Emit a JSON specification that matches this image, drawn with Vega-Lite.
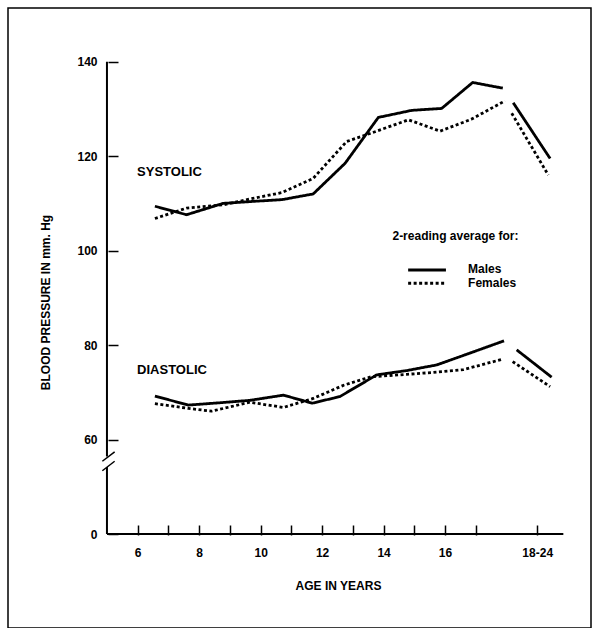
{
  "$schema": "https://vega.github.io/schema/vega-lite/v6.json",
  "width": 583,
  "height": 620,
  "autosize": {"type": "none"},
  "padding": {"left": 8, "top": 8, "right": 9, "bottom": 0},
  "background": "white",
  "config": {
    "view": {"stroke": "black", "strokeWidth": 1.5},
    "font": "Liberation Sans",
    "axis": {
      "domain": false,
      "grid": false,
      "tickColor": "black",
      "tickWidth": 1.5,
      "tickSize": -10,
      "labelFont": "Liberation Sans",
      "labelFontWeight": "bold",
      "labelFontSize": 12,
      "labelColor": "black",
      "titleFont": "Liberation Sans",
      "titleFontWeight": "bold",
      "titleFontSize": 12,
      "titleColor": "black"
    },
    "text": {"font": "Liberation Sans", "fontWeight": "bold", "color": "black", "baseline": "middle"}
  },
  "layer": [
    {
      "data": {
        "values": [
          {"age": 6.56, "bp": 109.4, "sex": "Males", "series": "sys-child"},
          {"age": 7.59, "bp": 107.6, "sex": "Males", "series": "sys-child"},
          {"age": 8.78, "bp": 110.0, "sex": "Males", "series": "sys-child"},
          {"age": 9.7, "bp": 110.4, "sex": "Males", "series": "sys-child"},
          {"age": 10.7, "bp": 110.8, "sex": "Males", "series": "sys-child"},
          {"age": 11.71, "bp": 112.0, "sex": "Males", "series": "sys-child"},
          {"age": 12.75, "bp": 118.5, "sex": "Males", "series": "sys-child"},
          {"age": 13.83, "bp": 128.2, "sex": "Males", "series": "sys-child"},
          {"age": 14.92, "bp": 129.7, "sex": "Males", "series": "sys-child"},
          {"age": 15.89, "bp": 130.1, "sex": "Males", "series": "sys-child"},
          {"age": 16.9, "bp": 135.6, "sex": "Males", "series": "sys-child"},
          {"age": 17.88, "bp": 134.4, "sex": "Males", "series": "sys-child"},
          {"age": 18.22, "bp": 131.3, "sex": "Males", "series": "sys-adult"},
          {"age": 19.42, "bp": 119.5, "sex": "Males", "series": "sys-adult"},
          {"age": 6.56, "bp": 106.8, "sex": "Females", "series": "sys-child"},
          {"age": 7.59, "bp": 109.0, "sex": "Females", "series": "sys-child"},
          {"age": 8.79, "bp": 109.7, "sex": "Females", "series": "sys-child"},
          {"age": 9.7, "bp": 111.0, "sex": "Females", "series": "sys-child"},
          {"age": 10.7, "bp": 112.3, "sex": "Females", "series": "sys-child"},
          {"age": 11.71, "bp": 115.3, "sex": "Females", "series": "sys-child"},
          {"age": 12.8, "bp": 123.1, "sex": "Females", "series": "sys-child"},
          {"age": 13.56, "bp": 124.8, "sex": "Females", "series": "sys-child"},
          {"age": 14.81, "bp": 127.7, "sex": "Females", "series": "sys-child"},
          {"age": 15.84, "bp": 125.3, "sex": "Females", "series": "sys-child"},
          {"age": 16.85, "bp": 127.8, "sex": "Females", "series": "sys-child"},
          {"age": 17.95, "bp": 131.7, "sex": "Females", "series": "sys-child"},
          {"age": 18.17, "bp": 129.1, "sex": "Females", "series": "sys-adult"},
          {"age": 19.36, "bp": 116.0, "sex": "Females", "series": "sys-adult"},
          {"age": 6.56, "bp": 69.2, "sex": "Males", "series": "dia-child"},
          {"age": 7.65, "bp": 67.3, "sex": "Males", "series": "dia-child"},
          {"age": 8.7, "bp": 67.8, "sex": "Males", "series": "dia-child"},
          {"age": 9.65, "bp": 68.3, "sex": "Males", "series": "dia-child"},
          {"age": 10.74, "bp": 69.4, "sex": "Males", "series": "dia-child"},
          {"age": 11.68, "bp": 67.7, "sex": "Males", "series": "dia-child"},
          {"age": 12.58, "bp": 69.1, "sex": "Males", "series": "dia-child"},
          {"age": 13.78, "bp": 73.7, "sex": "Males", "series": "dia-child"},
          {"age": 14.75, "bp": 74.6, "sex": "Males", "series": "dia-child"},
          {"age": 15.73, "bp": 75.8, "sex": "Males", "series": "dia-child"},
          {"age": 16.81, "bp": 78.3, "sex": "Males", "series": "dia-child"},
          {"age": 17.92, "bp": 80.9, "sex": "Males", "series": "dia-child"},
          {"age": 18.33, "bp": 79.0, "sex": "Males", "series": "dia-adult"},
          {"age": 19.47, "bp": 73.2, "sex": "Males", "series": "dia-adult"},
          {"age": 6.56, "bp": 67.6, "sex": "Females", "series": "dia-child"},
          {"age": 7.65, "bp": 66.6, "sex": "Females", "series": "dia-child"},
          {"age": 8.4, "bp": 66.0, "sex": "Females", "series": "dia-child"},
          {"age": 9.65, "bp": 67.9, "sex": "Females", "series": "dia-child"},
          {"age": 10.74, "bp": 66.8, "sex": "Females", "series": "dia-child"},
          {"age": 11.71, "bp": 68.7, "sex": "Females", "series": "dia-child"},
          {"age": 12.7, "bp": 71.5, "sex": "Females", "series": "dia-child"},
          {"age": 13.6, "bp": 73.3, "sex": "Females", "series": "dia-child"},
          {"age": 14.75, "bp": 73.8, "sex": "Females", "series": "dia-child"},
          {"age": 15.6, "bp": 74.2, "sex": "Females", "series": "dia-child"},
          {"age": 16.6, "bp": 74.8, "sex": "Females", "series": "dia-child"},
          {"age": 17.86, "bp": 77.0, "sex": "Females", "series": "dia-child"},
          {"age": 18.2, "bp": 76.5, "sex": "Females", "series": "dia-adult"},
          {"age": 19.42, "bp": 71.2, "sex": "Females", "series": "dia-adult"}
        ]
      },
      "mark": {"type": "line", "color": "black", "strokeWidth": 2.8, "strokeCap": "butt", "strokeJoin": "round"},
      "encoding": {
        "x": {
          "field": "age", "type": "quantitative",
          "scale": {"domain": [1.78, 20.75], "nice": false, "zero": false},
          "axis": {
            "title": "AGE IN YEARS",
            "offset": -93,
            "values": [6, 7, 8, 9, 10, 11, 12, 13, 14, 15, 16, 17, 19],
            "labelExpr": "datum.value == 19 ? '18-24' : (datum.value % 2 == 0 ? datum.label : '')",
            "labelPadding": 22,
            "titleX": 330,
            "titleY": 50,
            "titleBaseline": "middle"
          }
        },
        "y": {
          "field": "bp", "type": "quantitative",
          "scale": {"domain": [20.1, 151.37], "nice": false, "zero": false},
          "axis": {
            "title": "BLOOD PRESSURE IN mm. Hg",
            "offset": -100,
            "values": [40, 60, 80, 100, 120, 140],
            "labelExpr": "datum.value == 40 ? '0' : datum.label",
            "labelPadding": 21,
            "titleX": -63,
            "titleY": 294,
            "titleAngle": -90,
            "titleAlign": "center",
            "titleBaseline": "middle"
          }
        },
        "detail": {"field": "series"},
        "strokeDash": {
          "field": "sex", "type": "nominal",
          "scale": {"domain": ["Males", "Females"], "range": [[1, 0], [3, 2.5]]},
          "legend": null
        }
      }
    },
    {
      "data": {"values": [{}]},
      "mark": {"type": "rule", "color": "black", "strokeWidth": 2},
      "encoding": {"x": {"datum": 5}, "x2": {"datum": 19.85}, "y": {"datum": 40}}
    },
    {
      "data": {"values": [{}]},
      "mark": {"type": "rule", "color": "black", "strokeWidth": 2},
      "encoding": {"x": {"datum": 5}, "y": {"datum": 40}, "y2": {"datum": 54.2}}
    },
    {
      "data": {"values": [{}]},
      "mark": {"type": "rule", "color": "black", "strokeWidth": 2},
      "encoding": {"x": {"datum": 5}, "y": {"datum": 56.4}, "y2": {"datum": 140}}
    },
    {
      "data": {"values": [{}]},
      "mark": {"type": "rule", "color": "black", "strokeWidth": 1.5},
      "encoding": {"x": {"datum": 4.85}, "x2": {"datum": 5.25}, "y": {"datum": 55.4}, "y2": {"datum": 57.4}}
    },
    {
      "data": {"values": [{}]},
      "mark": {"type": "rule", "color": "black", "strokeWidth": 1.5},
      "encoding": {"x": {"datum": 4.85}, "x2": {"datum": 5.25}, "y": {"datum": 53.4}, "y2": {"datum": 55.4}}
    },
    {
      "data": {"values": [{}]},
      "mark": {"type": "rule", "color": "black", "strokeWidth": 3},
      "encoding": {"x": {"datum": 14.8}, "x2": {"datum": 16.03}, "y": {"datum": 95.9}}
    },
    {
      "data": {"values": [{}]},
      "mark": {"type": "rule", "color": "black", "strokeWidth": 3, "strokeDash": [3, 2.5]},
      "encoding": {"x": {"datum": 14.8}, "x2": {"datum": 16.03}, "y": {"datum": 93.1}}
    },
    {
      "data": {"values": [{}]},
      "mark": {"type": "text", "text": "2-reading average for:", "align": "center", "fontSize": 12},
      "encoding": {"x": {"datum": 16.34}, "y": {"datum": 103.1}}
    },
    {
      "data": {"values": [{}]},
      "mark": {"type": "text", "text": "Males", "align": "left", "fontSize": 12},
      "encoding": {"x": {"datum": 16.75}, "y": {"datum": 96.2}}
    },
    {
      "data": {"values": [{}]},
      "mark": {"type": "text", "text": "Females", "align": "left", "fontSize": 12},
      "encoding": {"x": {"datum": 16.75}, "y": {"datum": 93.2}}
    },
    {
      "data": {"values": [{}]},
      "mark": {"type": "text", "text": "SYSTOLIC", "align": "left", "fontSize": 13},
      "encoding": {"x": {"datum": 5.98}, "y": {"datum": 116.7}}
    },
    {
      "data": {"values": [{}]},
      "mark": {"type": "text", "text": "DIASTOLIC", "align": "left", "fontSize": 13},
      "encoding": {"x": {"datum": 5.98}, "y": {"datum": 74.7}}
    }
  ]
}
